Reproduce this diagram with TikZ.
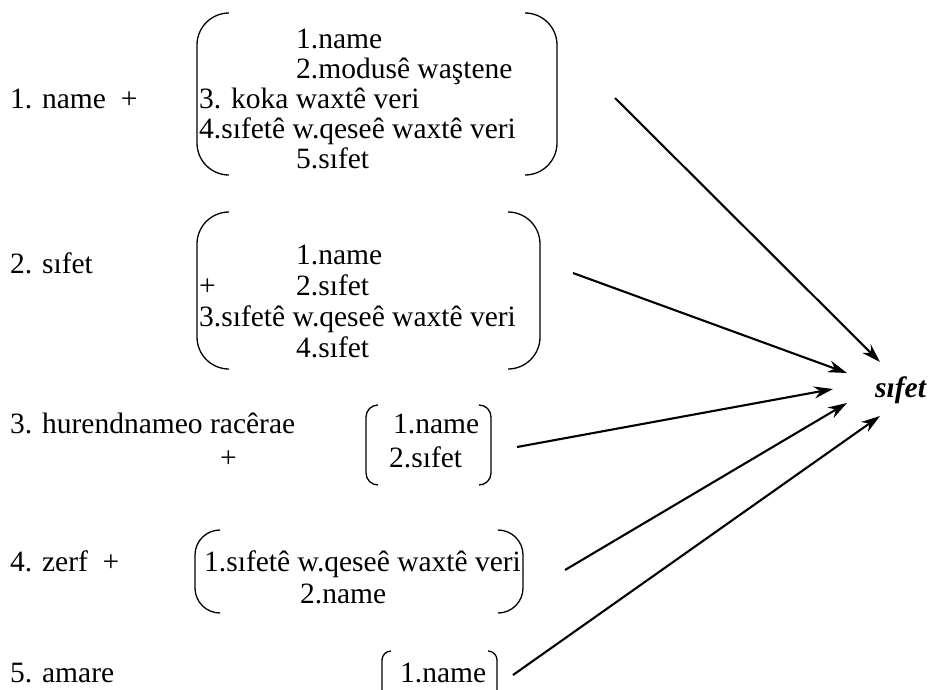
\documentclass[tikz,border=0pt]{standalone}
\usepackage{fontspec}
\setmainfont{Liberation Serif}
\usetikzlibrary{arrows.meta}
\begin{document}
\begin{tikzpicture}[x=1pt,y=-1pt,
  txt/.style={anchor=base west,inner sep=0pt,font=\fontsize{29.5}{29.5}\selectfont},
  goal/.style={anchor=base west,inner sep=0pt,font=\fontsize{29.5}{29.5}\selectfont\bfseries\itshape},
  brk/.style={line width=1.3pt},
  arr/.style={line width=2.1pt,-{Stealth[length=19pt,width=12pt]}}]
\useasboundingbox (0,0) rectangle (929,689);

% left / right round brackets: x, top, bottom, corner radius
\newcommand\openbrk[4]{\draw[brk,rounded corners=#4pt] (#1+#4,#2) -- (#1,#2) -- (#1,#3) -- (#1+#4,#3);}
\newcommand\closebrk[4]{\draw[brk,rounded corners=#4pt] (#1-#4,#2) -- (#1,#2) -- (#1,#3) -- (#1-#4,#3);}

% ---- 1. name + (...)
\node[txt] (l1) at (10,108) {1. name\ \ +};
\openbrk{197}{13}{175}{32}
\closebrk{557}{13}{175}{32}
\node[txt] (a1) at (296,48) {1.name};
\node[txt] (a2) at (296,78) {2.modusê waştene};
\node[txt] (a3) at (199,108) {3. koka waxtê veri};
\node[txt] (a4) at (199,138) {4.sıfetê w.qeseê waxtê veri};
\node[txt] (a5) at (296,168) {5.sıfet};

% ---- 2. sıfet + (...)
\node[txt] (l2) at (10,273) {2. sıfet};
\openbrk{197}{212}{369}{32}
\closebrk{540}{212}{369}{32}
\node[txt] (b1) at (296,264) {1.name};
\node[txt] (bp) at (199,295) {+};
\node[txt] (b2) at (296,295) {2.sıfet};
\node[txt] (b3) at (199,326) {3.sıfetê w.qeseê waxtê veri};
\node[txt] (b4) at (296,357) {4.sıfet};

% ---- 3. hurendnameo racêrae + (...)
\node[txt] (l3) at (10,433) {3. hurendnameo racêrae};
\node[txt] (l3p) at (220,467) {+};
\openbrk{366}{405}{485}{12}
\closebrk{491}{405}{485}{12}
\node[txt] (c1) at (393,433) {1.name};
\node[txt] (c2) at (389,467) {2.sıfet};

% ---- 4. zerf + (...)
\node[txt] (l4) at (10,571) {4. zerf\ \ +};
\openbrk{195}{530}{613}{25}
\closebrk{523}{530}{613}{25}
\node[txt] (d1) at (204,571) {1.sıfetê w.qeseê waxtê veri};
\node[txt] (d2) at (300,603) {2.name};

% ---- 5. amare (...)
\node[txt] (l5) at (10,682) {5. amare};
\openbrk{382}{651}{700}{9}
\closebrk{497}{651}{700}{9}
\node[txt] (e1) at (400,682) {1.name};

% ---- target
\node[goal] (t) at (875,397) {sıfet};

% arrow ends
\coordinate (s1) at (615,98);
\coordinate (s2) at (573,273);
\coordinate (s3) at (517,447);
\coordinate (s4) at (565,570);
\coordinate (s5) at (513,675);
\coordinate (e1t) at (880,362);
\coordinate (e2t) at (847,373);
\coordinate (e3t) at (833,389);
\coordinate (e4t) at (847,403);
\coordinate (e5t) at (880,416);

\draw[arr] (s1) -- (e1t);
\draw[arr] (s2) -- (e2t);
\draw[arr] (s3) -- (e3t);
\draw[arr] (s4) -- (e4t);
\draw[arr] (s5) -- (e5t);
\end{tikzpicture}
\end{document}
